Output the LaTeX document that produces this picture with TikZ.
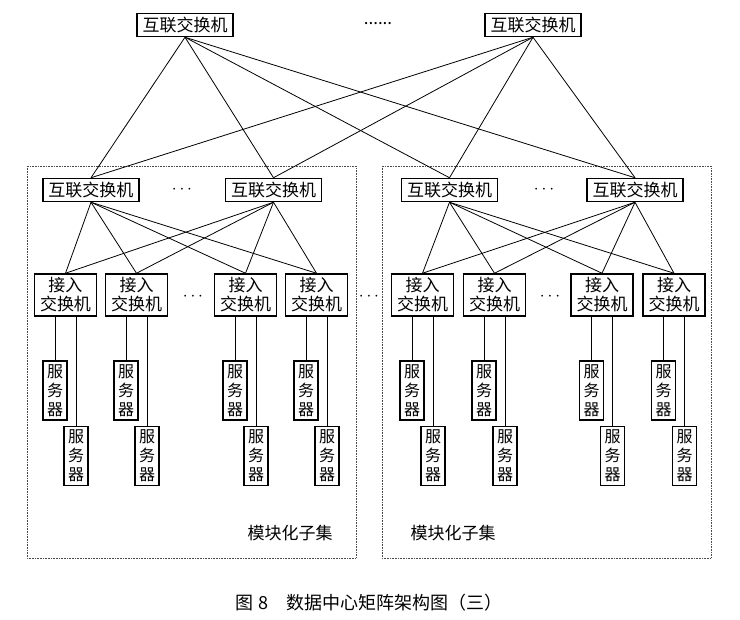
\documentclass[tikz,border=0pt]{standalone}
\usepackage{fontspec}
\setmainfont{Noto Sans CJK SC}
\begin{document}
\begin{tikzpicture}[x=1pt,y=-1pt,
  every node/.style={inner sep=0pt,font=\fontsize{17}{19}\selectfont},
  sw/.style={draw,line width=1.5pt,minimum width=96pt,minimum height=23pt},
  acc/.style={draw,line width=1.5pt,minimum width=62pt,minimum height=42pt,align=center},
  srv/.style={draw,line width=1.5pt,minimum width=24pt,minimum height=59pt,align=center,font=\fontsize{16}{19}\selectfont},
  link/.style={line width=0.8pt},
  subset/.style={densely dotted,line width=0.6pt,draw=black!70}]
\useasboundingbox (0,0) rectangle (740,620);
% subset frames
\draw[subset] (27,166) rectangle (356,558);
\draw[subset] (382,166) rectangle (711,558);
% top switches
\node[sw] (T1) at (185,25) {互联交换机};
\node[sw] (T2) at (533,25) {互联交换机};
\node (tdots) at (378,24) {......};
% second level
\node[sw] (L1) at (91,190) {互联交换机};
\node[sw] (L2) at (273.5,190) {互联交换机};
\node[sw] (R1) at (449.5,190) {互联交换机};
\node[sw] (R2) at (635,190) {互联交换机};
\node (ldots) at (182,190) {$\cdots$};
\node (rdots) at (544,190) {$\cdots$};
% access switches
\foreach \n/\x in {A1/65.5,A2/136.5,A3/245.5,A4/316.5,B1/422.5,B2/494.5,B3/602,B4/674}{
  \node[acc] (\n) at (\x,295) {接入\\交换机};
  \node[srv] (\n u) at (\x-10.5,390.5) {服\\务\\器};
  \node[srv] (\n d) at (\x+10.5,456) {服\\务\\器};
  \draw[link] (\n u.north |- \n.south) -- (\n u.north);
  \draw[link] (\n d.north |- \n.south) -- (\n d.north);
}
\node (adots) at (193,297) {$\cdots$};
\node (bdots) at (550,297) {$\cdots$};
\node (mdots) at (369,297) {$\cdots$};
% top links
\foreach \t in {T1,T2}
  \foreach \s in {L1,L2,R1,R2}
    \draw[link] (\t.south) -- (\s.north);
% second-level to access
\foreach \s in {L1,L2}
  \foreach \a in {A1,A2,A3,A4}
    \draw[link] (\s.south) -- (\a.north);
\foreach \s in {R1,R2}
  \foreach \a in {B1,B2,B3,B4}
    \draw[link] (\s.south) -- (\a.north);
% labels
\node (lab1) at (290,533) {模块化子集};
\node (lab2) at (453,533) {模块化子集};
\node[font=\fontsize{18}{19}\selectfont] (cap) at (369,603) {图 8\quad 数据中心矩阵架构图（三）};
\end{tikzpicture}
\end{document}
